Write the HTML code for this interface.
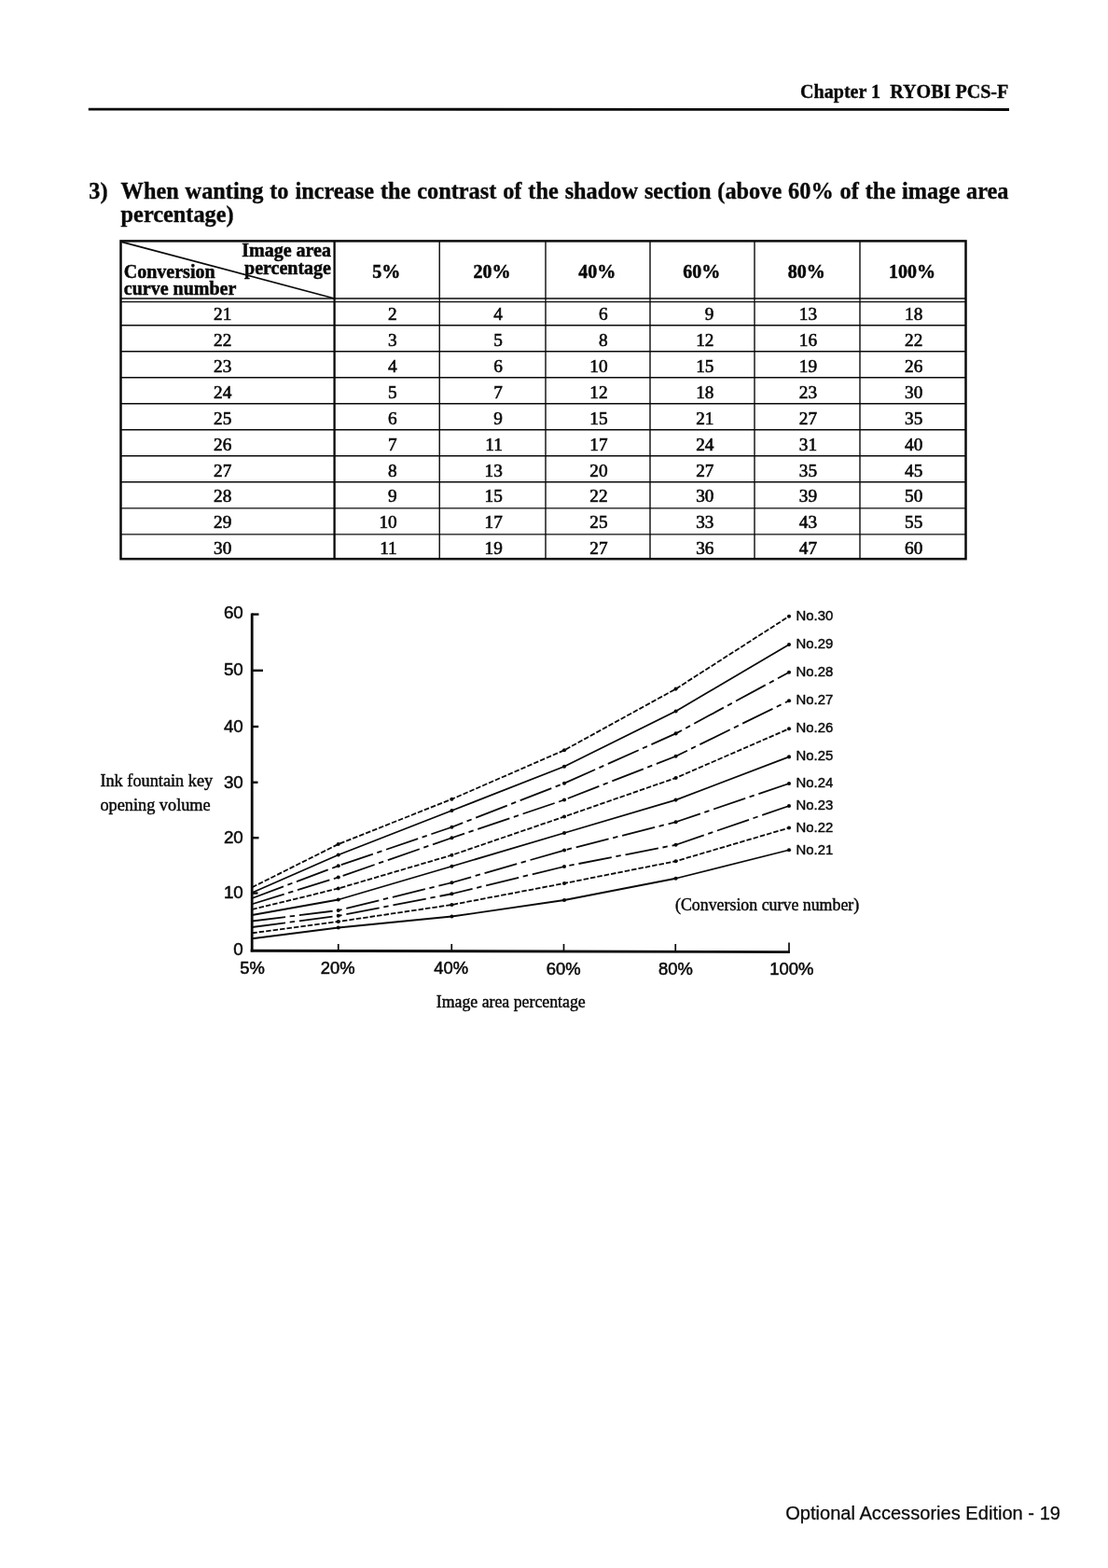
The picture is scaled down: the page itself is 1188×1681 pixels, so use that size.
<!DOCTYPE html>
<html lang="en">
<head>
<meta charset="utf-8">
<title>Chapter 1 RYOBI PCS-F - Optional Accessories Edition - 19</title>
<style>
html,body{margin:0;padding:0;background:#fff;}
body{width:1188px;height:1681px;position:relative;overflow:hidden;color:#0a0a0a;}
.page{position:absolute;left:0;top:0;width:1188px;height:1681px;overflow:hidden;background:#fff;}
.ink{position:absolute;left:0;top:0;width:1188px;height:1681px;filter:blur(0.3px);}
.t{position:absolute;line-height:1;white-space:pre;margin:0;padding:0;}
.sf{font-family:"Liberation Serif",serif;-webkit-text-stroke:0.45px #0a0a0a;}
.sb{font-family:"Liberation Serif",serif;-webkit-text-stroke:0.35px #0a0a0a;}
.sn{font-family:"Liberation Sans",sans-serif;-webkit-text-stroke:0.52px #0a0a0a;}
.td{-webkit-text-stroke:0.6px #0a0a0a;}
.th{-webkit-text-stroke:0.5px #0a0a0a;}
.ft{-webkit-text-stroke:0.25px #0a0a0a;}
.sl{-webkit-text-stroke:0.42px #0a0a0a;}
svg{position:absolute;left:0;top:0;}
</style>
</head>
<body>
<div class="page">
<div class="ink">
<svg width="1188" height="1681" viewBox="0 0 1188 1681" stroke="#0a0a0a" fill="none" stroke-linecap="butt">
<line x1="94.8" y1="117.1" x2="1082" y2="117.5" stroke-width="2.8" />
<rect x="129.5" y="258.4" width="906.0" height="340.80000000000007" fill="none" stroke-width="2.5"/>
<line x1="358.6" y1="258.4" x2="358.6" y2="599.2" stroke-width="2.3" />
<line x1="471.25" y1="258.4" x2="471.25" y2="599.2" stroke-width="1.4" />
<line x1="585" y1="258.4" x2="585" y2="599.2" stroke-width="1.4" />
<line x1="697" y1="258.4" x2="697" y2="599.2" stroke-width="1.4" />
<line x1="809" y1="258.4" x2="809" y2="599.2" stroke-width="1.4" />
<line x1="922" y1="258.4" x2="922" y2="599.2" stroke-width="1.4" />
<line x1="129.5" y1="320.0" x2="1035.5" y2="320.0" stroke-width="1.3" />
<line x1="129.5" y1="323.65" x2="1035.5" y2="323.65" stroke-width="1.3" />
<line x1="129.5" y1="348.65" x2="1035.5" y2="348.65" stroke-width="1.45" />
<line x1="129.5" y1="376.68" x2="1035.5" y2="376.68" stroke-width="1.45" />
<line x1="129.5" y1="404.71000000000004" x2="1035.5" y2="404.71000000000004" stroke-width="1.45" />
<line x1="129.5" y1="432.74" x2="1035.5" y2="432.74" stroke-width="1.45" />
<line x1="129.5" y1="460.77" x2="1035.5" y2="460.77" stroke-width="1.45" />
<line x1="129.5" y1="488.8" x2="1035.5" y2="488.8" stroke-width="1.45" />
<line x1="129.5" y1="516.83" x2="1035.5" y2="516.83" stroke-width="1.45" />
<line x1="129.5" y1="544.86" x2="1035.5" y2="544.86" stroke-width="1.45" />
<line x1="129.5" y1="572.89" x2="1035.5" y2="572.89" stroke-width="1.45" />
<line x1="130.5" y1="259.4" x2="358.6" y2="320.0" stroke-width="1.7" />
<line x1="270.2" y1="657.4" x2="270.2" y2="1020.2" stroke-width="2.8" />
<line x1="268.7" y1="1019.2" x2="846.8" y2="1020.6" stroke-width="2.9" />
<line x1="270" y1="658.6" x2="277.5" y2="658.6" stroke-width="2.4" />
<line x1="270" y1="718.8" x2="282" y2="718.8" stroke-width="2.4" />
<line x1="270" y1="779" x2="277.2" y2="779" stroke-width="2.4" />
<line x1="270" y1="838.75" x2="276.5" y2="838.75" stroke-width="2.4" />
<line x1="270" y1="898.2" x2="277.5" y2="898.2" stroke-width="2.4" />
<line x1="270" y1="957.5" x2="276.5" y2="957.5" stroke-width="2.4" />
<line x1="362.75" y1="1012" x2="362.75" y2="1020" stroke-width="1.7" />
<line x1="484.25" y1="1012" x2="484.25" y2="1020" stroke-width="1.7" />
<line x1="604.5" y1="1012" x2="604.5" y2="1020" stroke-width="1.7" />
<line x1="724.25" y1="1012" x2="724.25" y2="1020" stroke-width="1.7" />
<line x1="846.0" y1="1010.5" x2="846.0" y2="1021.6" stroke-width="1.7" />
<polyline points="270.3,1006.25 362.75,994.5 484.4,982.5 605,965 724.6,941.75 846,911.25" stroke-width="1.8" stroke-linejoin="round"/>
<circle cx="362.75" cy="994.5" r="2.05" stroke="none" fill="#0a0a0a"/>
<circle cx="484.4" cy="982.5" r="2.05" stroke="none" fill="#0a0a0a"/>
<circle cx="605" cy="965" r="2.05" stroke="none" fill="#0a0a0a"/>
<circle cx="724.6" cy="941.75" r="2.05" stroke="none" fill="#0a0a0a"/>
<circle cx="846" cy="911.25" r="2.05" stroke="none" fill="#0a0a0a"/>
<polyline points="270.3,1000.25 362.75,988 484.4,970 605,947 724.6,923.25 846,887.5" stroke-width="1.8" stroke-linejoin="round" stroke-dasharray="5.5 2.0"/>
<circle cx="362.75" cy="988" r="2.05" stroke="none" fill="#0a0a0a"/>
<circle cx="484.4" cy="970" r="2.05" stroke="none" fill="#0a0a0a"/>
<circle cx="605" cy="947" r="2.05" stroke="none" fill="#0a0a0a"/>
<circle cx="724.6" cy="923.25" r="2.05" stroke="none" fill="#0a0a0a"/>
<circle cx="846" cy="887.5" r="2.05" stroke="none" fill="#0a0a0a"/>
<polyline points="270.3,994 362.75,981.75 484.4,958.25 605,929 724.6,905.75 846,864" stroke-width="1.8" stroke-linejoin="round" stroke-dasharray="36.0 4.7 5.4 4.9" stroke-dashoffset="0.00"/>
<circle cx="362.75" cy="981.75" r="2.05" stroke="none" fill="#0a0a0a"/>
<circle cx="484.4" cy="958.25" r="2.05" stroke="none" fill="#0a0a0a"/>
<circle cx="605" cy="929" r="2.05" stroke="none" fill="#0a0a0a"/>
<circle cx="724.6" cy="905.75" r="2.05" stroke="none" fill="#0a0a0a"/>
<circle cx="846" cy="864" r="2.05" stroke="none" fill="#0a0a0a"/>
<polyline points="270.3,987.5 362.75,976 484.4,946.25 605,911.5 724.6,881.25 846,840" stroke-width="1.8" stroke-linejoin="round" stroke-dasharray="36.0 4.7 5.4 4.9" stroke-dashoffset="0.00"/>
<circle cx="362.75" cy="976" r="2.05" stroke="none" fill="#0a0a0a"/>
<circle cx="484.4" cy="946.25" r="2.05" stroke="none" fill="#0a0a0a"/>
<circle cx="605" cy="911.5" r="2.05" stroke="none" fill="#0a0a0a"/>
<circle cx="724.6" cy="881.25" r="2.05" stroke="none" fill="#0a0a0a"/>
<circle cx="846" cy="840" r="2.05" stroke="none" fill="#0a0a0a"/>
<polyline points="270.3,981 362.75,964.5 484.4,928.75 605,893 724.6,857.6 846,811.4" stroke-width="1.8" stroke-linejoin="round"/>
<circle cx="362.75" cy="964.5" r="2.05" stroke="none" fill="#0a0a0a"/>
<circle cx="484.4" cy="928.75" r="2.05" stroke="none" fill="#0a0a0a"/>
<circle cx="605" cy="893" r="2.05" stroke="none" fill="#0a0a0a"/>
<circle cx="724.6" cy="857.6" r="2.05" stroke="none" fill="#0a0a0a"/>
<circle cx="846" cy="811.4" r="2.05" stroke="none" fill="#0a0a0a"/>
<polyline points="270.3,975 362.75,952.5 484.4,916.75 605,875.5 724.6,834 846,781.25" stroke-width="1.8" stroke-linejoin="round" stroke-dasharray="5.5 2.0"/>
<circle cx="362.75" cy="952.5" r="2.05" stroke="none" fill="#0a0a0a"/>
<circle cx="484.4" cy="916.75" r="2.05" stroke="none" fill="#0a0a0a"/>
<circle cx="605" cy="875.5" r="2.05" stroke="none" fill="#0a0a0a"/>
<circle cx="724.6" cy="834" r="2.05" stroke="none" fill="#0a0a0a"/>
<circle cx="846" cy="781.25" r="2.05" stroke="none" fill="#0a0a0a"/>
<polyline points="270.3,969.25 362.75,940.5 484.4,898.25 605,857.5 724.6,810.75 846,751.25" stroke-width="1.8" stroke-linejoin="round" stroke-dasharray="36.0 4.7 5.4 4.9" stroke-dashoffset="0.00"/>
<circle cx="362.75" cy="940.5" r="2.05" stroke="none" fill="#0a0a0a"/>
<circle cx="484.4" cy="898.25" r="2.05" stroke="none" fill="#0a0a0a"/>
<circle cx="605" cy="857.5" r="2.05" stroke="none" fill="#0a0a0a"/>
<circle cx="724.6" cy="810.75" r="2.05" stroke="none" fill="#0a0a0a"/>
<circle cx="846" cy="751.25" r="2.05" stroke="none" fill="#0a0a0a"/>
<polyline points="270.3,963 362.75,928.25 484.4,886.75 605,839.75 724.6,786.4 846,720.75" stroke-width="1.8" stroke-linejoin="round" stroke-dasharray="36.0 4.7 5.4 4.9" stroke-dashoffset="0.00"/>
<circle cx="362.75" cy="928.25" r="2.05" stroke="none" fill="#0a0a0a"/>
<circle cx="484.4" cy="886.75" r="2.05" stroke="none" fill="#0a0a0a"/>
<circle cx="605" cy="839.75" r="2.05" stroke="none" fill="#0a0a0a"/>
<circle cx="724.6" cy="786.4" r="2.05" stroke="none" fill="#0a0a0a"/>
<circle cx="846" cy="720.75" r="2.05" stroke="none" fill="#0a0a0a"/>
<polyline points="270.3,957 362.75,916.5 484.4,869 605,821.75 724.6,762.5 846,691" stroke-width="1.8" stroke-linejoin="round"/>
<circle cx="362.75" cy="916.5" r="2.05" stroke="none" fill="#0a0a0a"/>
<circle cx="484.4" cy="869" r="2.05" stroke="none" fill="#0a0a0a"/>
<circle cx="605" cy="821.75" r="2.05" stroke="none" fill="#0a0a0a"/>
<circle cx="724.6" cy="762.5" r="2.05" stroke="none" fill="#0a0a0a"/>
<circle cx="846" cy="691" r="2.05" stroke="none" fill="#0a0a0a"/>
<polyline points="270.3,951.25 362.75,905 484.4,856.75 605,804.25 724.6,738.6 846,660.75" stroke-width="1.8" stroke-linejoin="round" stroke-dasharray="5.5 2.0"/>
<circle cx="362.75" cy="905" r="2.05" stroke="none" fill="#0a0a0a"/>
<circle cx="484.4" cy="856.75" r="2.05" stroke="none" fill="#0a0a0a"/>
<circle cx="605" cy="804.25" r="2.05" stroke="none" fill="#0a0a0a"/>
<circle cx="724.6" cy="738.6" r="2.05" stroke="none" fill="#0a0a0a"/>
<circle cx="846" cy="660.75" r="2.05" stroke="none" fill="#0a0a0a"/>
</svg>
<header>
<div class="t sb" style="top:87.60px;font-size:20.1px;font-weight:700;right:106.70px;">Chapter 1&nbsp; RYOBI PCS-F</div>
</header>
<section class="heading">
<div class="t sb" style="top:193.00px;font-size:24.3px;font-weight:700;left:95.30px;">3)</div>
<div class="t sb" style="top:193.00px;font-size:24.3px;font-weight:700;left:129.60px;word-spacing:0.85px;">When wanting to increase the contrast of the shadow section (above 60% of the image area</div>
<div class="t sb" style="top:218.00px;font-size:24.3px;font-weight:700;left:129.60px;">percentage)</div>
</section>
<section class="table">
<div class="t sb th" style="top:257.60px;font-size:20px;font-weight:700;right:833.00px;">Image area</div>
<div class="t sb th" style="top:276.50px;font-size:20px;font-weight:700;right:833.00px;">percentage</div>
<div class="t sb th" style="top:281.00px;font-size:20px;font-weight:700;left:132.80px;">Conversion</div>
<div class="t sb th" style="top:298.50px;font-size:20px;font-weight:700;left:132.80px;">curve number</div>
<div class="t sb th" style="top:280.50px;font-size:20px;font-weight:700;left:114.30px;width:600px;text-align:center;">5%</div>
<div class="t sb th" style="top:280.50px;font-size:20px;font-weight:700;left:227.45px;width:600px;text-align:center;">20%</div>
<div class="t sb th" style="top:280.50px;font-size:20px;font-weight:700;left:340.20px;width:600px;text-align:center;">40%</div>
<div class="t sb th" style="top:280.50px;font-size:20px;font-weight:700;left:452.20px;width:600px;text-align:center;">60%</div>
<div class="t sb th" style="top:280.50px;font-size:20px;font-weight:700;left:564.70px;width:600px;text-align:center;">80%</div>
<div class="t sb th" style="top:280.50px;font-size:20px;font-weight:700;left:677.95px;width:600px;text-align:center;">100%</div>
<div class="t sf td" style="top:326.95px;font-size:19.3px;right:939.70px;">21</div>
<div class="t sf td" style="top:326.95px;font-size:19.3px;right:762.30px;">2</div>
<div class="t sf td" style="top:326.95px;font-size:19.3px;right:649.15px;">4</div>
<div class="t sf td" style="top:326.95px;font-size:19.3px;right:536.40px;">6</div>
<div class="t sf td" style="top:326.95px;font-size:19.3px;right:422.60px;">9</div>
<div class="t sf td" style="top:326.95px;font-size:19.3px;right:311.90px;">13</div>
<div class="t sf td" style="top:326.95px;font-size:19.3px;right:198.65px;">18</div>
<div class="t sf td" style="top:354.88px;font-size:19.3px;right:939.70px;">22</div>
<div class="t sf td" style="top:354.88px;font-size:19.3px;right:762.30px;">3</div>
<div class="t sf td" style="top:354.88px;font-size:19.3px;right:649.15px;">5</div>
<div class="t sf td" style="top:354.88px;font-size:19.3px;right:536.40px;">8</div>
<div class="t sf td" style="top:354.88px;font-size:19.3px;right:422.60px;">12</div>
<div class="t sf td" style="top:354.88px;font-size:19.3px;right:311.90px;">16</div>
<div class="t sf td" style="top:354.88px;font-size:19.3px;right:198.65px;">22</div>
<div class="t sf td" style="top:382.81px;font-size:19.3px;right:939.70px;">23</div>
<div class="t sf td" style="top:382.81px;font-size:19.3px;right:762.30px;">4</div>
<div class="t sf td" style="top:382.81px;font-size:19.3px;right:649.15px;">6</div>
<div class="t sf td" style="top:382.81px;font-size:19.3px;right:536.40px;">10</div>
<div class="t sf td" style="top:382.81px;font-size:19.3px;right:422.60px;">15</div>
<div class="t sf td" style="top:382.81px;font-size:19.3px;right:311.90px;">19</div>
<div class="t sf td" style="top:382.81px;font-size:19.3px;right:198.65px;">26</div>
<div class="t sf td" style="top:410.74px;font-size:19.3px;right:939.70px;">24</div>
<div class="t sf td" style="top:410.74px;font-size:19.3px;right:762.30px;">5</div>
<div class="t sf td" style="top:410.74px;font-size:19.3px;right:649.15px;">7</div>
<div class="t sf td" style="top:410.74px;font-size:19.3px;right:536.40px;">12</div>
<div class="t sf td" style="top:410.74px;font-size:19.3px;right:422.60px;">18</div>
<div class="t sf td" style="top:410.74px;font-size:19.3px;right:311.90px;">23</div>
<div class="t sf td" style="top:410.74px;font-size:19.3px;right:198.65px;">30</div>
<div class="t sf td" style="top:438.67px;font-size:19.3px;right:939.70px;">25</div>
<div class="t sf td" style="top:438.67px;font-size:19.3px;right:762.30px;">6</div>
<div class="t sf td" style="top:438.67px;font-size:19.3px;right:649.15px;">9</div>
<div class="t sf td" style="top:438.67px;font-size:19.3px;right:536.40px;">15</div>
<div class="t sf td" style="top:438.67px;font-size:19.3px;right:422.60px;">21</div>
<div class="t sf td" style="top:438.67px;font-size:19.3px;right:311.90px;">27</div>
<div class="t sf td" style="top:438.67px;font-size:19.3px;right:198.65px;">35</div>
<div class="t sf td" style="top:466.60px;font-size:19.3px;right:939.70px;">26</div>
<div class="t sf td" style="top:466.60px;font-size:19.3px;right:762.30px;">7</div>
<div class="t sf td" style="top:466.60px;font-size:19.3px;right:649.15px;">11</div>
<div class="t sf td" style="top:466.60px;font-size:19.3px;right:536.40px;">17</div>
<div class="t sf td" style="top:466.60px;font-size:19.3px;right:422.60px;">24</div>
<div class="t sf td" style="top:466.60px;font-size:19.3px;right:311.90px;">31</div>
<div class="t sf td" style="top:466.60px;font-size:19.3px;right:198.65px;">40</div>
<div class="t sf td" style="top:494.53px;font-size:19.3px;right:939.70px;">27</div>
<div class="t sf td" style="top:494.53px;font-size:19.3px;right:762.30px;">8</div>
<div class="t sf td" style="top:494.53px;font-size:19.3px;right:649.15px;">13</div>
<div class="t sf td" style="top:494.53px;font-size:19.3px;right:536.40px;">20</div>
<div class="t sf td" style="top:494.53px;font-size:19.3px;right:422.60px;">27</div>
<div class="t sf td" style="top:494.53px;font-size:19.3px;right:311.90px;">35</div>
<div class="t sf td" style="top:494.53px;font-size:19.3px;right:198.65px;">45</div>
<div class="t sf td" style="top:522.46px;font-size:19.3px;right:939.70px;">28</div>
<div class="t sf td" style="top:522.46px;font-size:19.3px;right:762.30px;">9</div>
<div class="t sf td" style="top:522.46px;font-size:19.3px;right:649.15px;">15</div>
<div class="t sf td" style="top:522.46px;font-size:19.3px;right:536.40px;">22</div>
<div class="t sf td" style="top:522.46px;font-size:19.3px;right:422.60px;">30</div>
<div class="t sf td" style="top:522.46px;font-size:19.3px;right:311.90px;">39</div>
<div class="t sf td" style="top:522.46px;font-size:19.3px;right:198.65px;">50</div>
<div class="t sf td" style="top:550.39px;font-size:19.3px;right:939.70px;">29</div>
<div class="t sf td" style="top:550.39px;font-size:19.3px;right:762.30px;">10</div>
<div class="t sf td" style="top:550.39px;font-size:19.3px;right:649.15px;">17</div>
<div class="t sf td" style="top:550.39px;font-size:19.3px;right:536.40px;">25</div>
<div class="t sf td" style="top:550.39px;font-size:19.3px;right:422.60px;">33</div>
<div class="t sf td" style="top:550.39px;font-size:19.3px;right:311.90px;">43</div>
<div class="t sf td" style="top:550.39px;font-size:19.3px;right:198.65px;">55</div>
<div class="t sf td" style="top:578.32px;font-size:19.3px;right:939.70px;">30</div>
<div class="t sf td" style="top:578.32px;font-size:19.3px;right:762.30px;">11</div>
<div class="t sf td" style="top:578.32px;font-size:19.3px;right:649.15px;">19</div>
<div class="t sf td" style="top:578.32px;font-size:19.3px;right:536.40px;">27</div>
<div class="t sf td" style="top:578.32px;font-size:19.3px;right:422.60px;">36</div>
<div class="t sf td" style="top:578.32px;font-size:19.3px;right:311.90px;">47</div>
<div class="t sf td" style="top:578.32px;font-size:19.3px;right:198.65px;">60</div>
</section>
<section class="chart">
<div class="t sn" style="top:648.00px;font-size:18.8px;right:927.20px;">60</div>
<div class="t sn" style="top:709.00px;font-size:18.8px;right:927.20px;">50</div>
<div class="t sn" style="top:770.00px;font-size:18.8px;right:927.20px;">40</div>
<div class="t sn" style="top:830.00px;font-size:18.8px;right:927.20px;">30</div>
<div class="t sn" style="top:889.00px;font-size:18.8px;right:927.20px;">20</div>
<div class="t sn" style="top:948.00px;font-size:18.8px;right:927.20px;">10</div>
<div class="t sn" style="top:1009.00px;font-size:18.8px;right:927.20px;">0</div>
<div class="t sn" style="top:1029.00px;font-size:18.4px;left:-29.40px;width:600px;text-align:center;">5%</div>
<div class="t sn" style="top:1029.00px;font-size:18.4px;left:62.20px;width:600px;text-align:center;">20%</div>
<div class="t sn" style="top:1029.00px;font-size:18.4px;left:183.70px;width:600px;text-align:center;">40%</div>
<div class="t sn" style="top:1030.00px;font-size:18.4px;left:304.20px;width:600px;text-align:center;">60%</div>
<div class="t sn" style="top:1030.00px;font-size:18.4px;left:424.40px;width:600px;text-align:center;">80%</div>
<div class="t sn" style="top:1030.00px;font-size:18.4px;left:548.90px;width:600px;text-align:center;">100%</div>
<div class="t sn sl" style="top:653.00px;font-size:14.9px;left:853.50px;">No.30</div>
<div class="t sn sl" style="top:683.00px;font-size:14.9px;left:853.50px;">No.29</div>
<div class="t sn sl" style="top:713.00px;font-size:14.9px;left:853.50px;">No.28</div>
<div class="t sn sl" style="top:743.40px;font-size:14.9px;left:853.50px;">No.27</div>
<div class="t sn sl" style="top:773.40px;font-size:14.9px;left:853.50px;">No.26</div>
<div class="t sn sl" style="top:803.40px;font-size:14.9px;left:853.50px;">No.25</div>
<div class="t sn sl" style="top:832.40px;font-size:14.9px;left:853.50px;">No.24</div>
<div class="t sn sl" style="top:856.00px;font-size:14.9px;left:853.50px;">No.23</div>
<div class="t sn sl" style="top:880.40px;font-size:14.9px;left:853.50px;">No.22</div>
<div class="t sn sl" style="top:904.00px;font-size:14.9px;left:853.50px;">No.21</div>
<div class="t sf" style="top:828.00px;font-size:18.3px;left:107.40px;">Ink fountain key</div>
<div class="t sf" style="top:854.25px;font-size:18.3px;left:107.40px;">opening volume</div>
<div class="t sf" style="top:962.25px;font-size:17.85px;left:724.00px;">(Conversion curve number)</div>
<div class="t sf" style="top:1066.00px;font-size:17.8px;left:467.80px;">Image area percentage</div>
</section>
<footer>
<div class="t sn ft" style="top:1611.90px;font-size:20.1px;right:51.00px;">Optional Accessories Edition - 19</div>
</footer>
</div>
</div>
</body>
</html>
